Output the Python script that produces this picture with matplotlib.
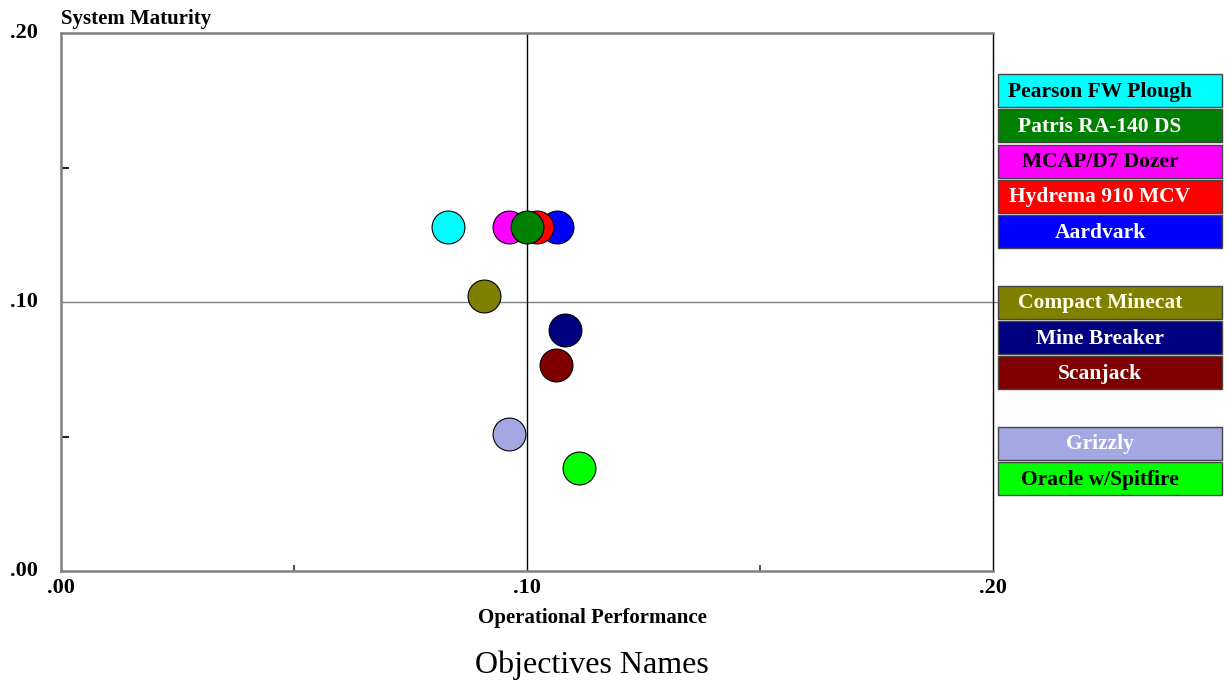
import matplotlib
matplotlib.use("Agg")
import matplotlib.pyplot as plt
from matplotlib.patches import Rectangle

# Alternatives scored on the two objectives
names = ["Pearson FW Plough", "Aardvark", "Hydrema 910 MCV", "MCAP/D7 Dozer",
         "Patris RA-140 DS", "Compact Minecat", "Mine Breaker", "Scanjack",
         "Grizzly", "Oracle w/Spitfire"]
operational = [0.0830, 0.1064, 0.1021, 0.0961, 0.0999, 0.0908, 0.1082, 0.1062,
               0.0961, 0.1112]
maturity = [0.1279, 0.1279, 0.1279, 0.1279, 0.1279, 0.1022, 0.0896, 0.0766,
            0.0509, 0.0383]
colors = ["#00FFFF", "#0000FF", "#FF0000", "#FF00FF", "#008000", "#808000",
          "#000080", "#800000", "#A3A8E2", "#00FF00"]
text_colors = ["black", "white", "white", "black", "white", "#FFFFE8", "white",
               "white", "white", "black"]

# Legend order (None marks a gap between groups)
legend_order = ["Pearson FW Plough", "Patris RA-140 DS", "MCAP/D7 Dozer",
                "Hydrema 910 MCV", "Aardvark", None, "Compact Minecat",
                "Mine Breaker", "Scanjack", None, "Grizzly", "Oracle w/Spitfire"]

tick_vals = [0.0, 0.10, 0.20]
tick_labels = [".00", ".10", ".20"]
minor_vals = [0.05, 0.15]

W, H = 1228, 682
fig = plt.figure(figsize=(W / 100, H / 100), dpi=100)
plt.rcParams["font.family"] = ["Liberation Serif", "DejaVu Serif"]

ax_l, ax_r, ax_t, ax_b = 61, 993, 33, 571
ax = fig.add_axes([ax_l / W, 1 - ax_b / H, (ax_r - ax_l) / W, (ax_b - ax_t) / H])
ax.set_xlim(0, 0.20)
ax.set_ylim(0, 0.20)

for side in ["left", "bottom", "top"]:
    ax.spines[side].set_color("#808080")
    ax.spines[side].set_linewidth(1.8)
ax.spines["right"].set_color("black")
ax.spines["right"].set_linewidth(1.0)

ax.set_xticks(tick_vals)
ax.set_xticklabels(tick_labels)
ax.set_yticks(tick_vals)
ax.set_yticklabels(tick_labels)
ax.set_xticks(minor_vals, minor=True)
ax.set_yticks(minor_vals, minor=True)
ax.tick_params(axis="both", which="major", length=0, labelsize=16)
ax.tick_params(axis="x", which="major", pad=5)
ax.tick_params(axis="y", which="major", pad=17)
ax.tick_params(axis="x", which="minor", direction="in", length=4, width=1.5,
               color="#555555")
ax.tick_params(axis="y", which="minor", direction="in", length=6, width=1.5,
               color="#222222")
for lab in ax.get_xticklabels() + ax.get_yticklabels():
    lab.set_fontweight("bold")
for lab in ax.get_yticklabels():
    lab.set_verticalalignment("center")

# Quadrant lines through the midpoint
ax.plot([0, 0.201], [0.10, 0.10], color="#808080", lw=1.0, clip_on=False, zorder=1)
ax.axvline(0.10, color="black", lw=1.0, zorder=1)

for i in range(len(names)):
    ax.scatter(operational[i], maturity[i], s=560, color=colors[i],
               edgecolor="black", linewidth=0.8, zorder=3 + i)

fig.text(ax_l / W, 1 - 19 / H, "System Maturity", fontsize=15, fontweight="bold",
         ha="left", va="center")
fig.text(592 / W, 1 - 618 / H, "Operational Performance", fontsize=15,
         fontweight="bold", ha="center", va="center")
fig.text(592 / W, 1 - 665 / H, "Objectives Names", fontsize=23,
         ha="center", va="center")

# Legend boxes on the right
box_x0, box_x1 = 998, 1222
box_h = 33
row_step = 35.3
y_top = 74
for k, name in enumerate(legend_order):
    if name is None:
        continue
    i = names.index(name)
    top = y_top + k * row_step
    rect = Rectangle((box_x0 / W, 1 - (top + box_h) / H),
                     (box_x1 - box_x0) / W, box_h / H,
                     transform=fig.transFigure, facecolor=colors[i],
                     edgecolor="#444444", linewidth=1.0)
    fig.add_artist(rect)
    fig.text(1100 / W, 1 - (top + box_h / 2 + 1) / H, name, fontsize=15.5,
             fontweight="bold", color=text_colors[i], ha="center", va="center")

fig.savefig("out.png", dpi=100, facecolor="white")
